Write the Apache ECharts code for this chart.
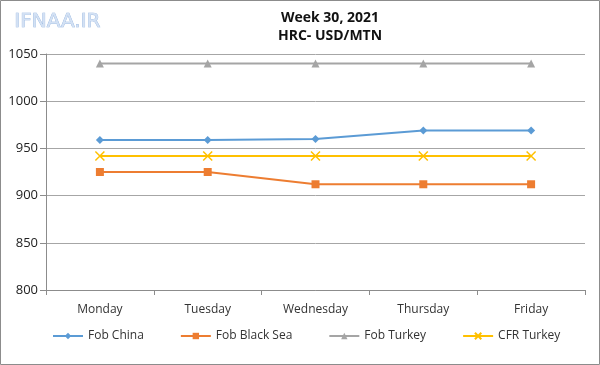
<!DOCTYPE html>
<html><head><meta charset="utf-8">
<script src="https://cdn.jsdelivr.net/npm/echarts@6/dist/echarts.min.js"></script>
<style>html,body{margin:0;padding:0;background:#fff}#c{width:600px;height:365px}</style>
</head><body><div id="c"></div>
<script>
const categories = ['Monday','Tuesday','Wednesday','Thursday','Friday'];
const fobChina = [959, 959, 960, 969, 969];
const fobBlackSea = [925, 925, 912, 912, 912];
const fobTurkey = [1040, 1040, 1040, 1040, 1040];
const cfrTurkey = [942, 942, 942, 942, 942];
const titleLines = ['Week 30, 2021', 'HRC- USD/MTN'];

const chart = echarts.init(document.getElementById('c'), null, {renderer:'canvas'});
const font = 'Open Sans, Noto Sans, sans-serif';
function s(name, data, color, symbol, size) {
  return {name, type:'line', data, color, symbol, symbolSize:size, showSymbol:true,
    lineStyle:{color, width:2}, itemStyle:{color}, emphasis:{disabled:true}, animation:false};
}
chart.setOption({
  animation:false,
  title:{text:titleLines[0], subtext:titleLines[1], left:325, textAlign:'center', top:6, itemGap:4,
    textStyle:{fontFamily:font, fontSize:14, fontWeight:'bold', color:'#111'},
    subtextStyle:{fontFamily:font, fontSize:14, fontWeight:'bold', color:'#111'}},
  graphic:[
    {type:'rect', shape:{x:0.5,y:0.5,width:599,height:364}, style:{fill:null, stroke:'#8c8c8c', lineWidth:1}, silent:true},
    {type:'text', left:14, top:11, style:{text:'IFNAA.IR', font:'20px "DejaVu Sans", sans-serif', fill:'#d3e1f4', stroke:'#8fb0dd', lineWidth:0.7}, silent:true}
  ],
  grid:{left:46, right:15, top:54, bottom:75},
  legend:{bottom:18, left:47, itemGap:36, itemWidth:30, itemHeight:8,
    textStyle:{fontFamily:font, fontSize:12, color:'#333'},
    data:['Fob China','Fob Black Sea','Fob Turkey','CFR Turkey']},
  xAxis:{type:'category', data:categories, boundaryGap:true,
    axisLine:{lineStyle:{color:'#8c8c8c'}}, axisTick:{show:true, length:5, lineStyle:{color:'#8c8c8c'}},
    axisLabel:{fontFamily:font, fontSize:12, color:'#333', margin:14}},
  yAxis:{type:'value', min:800, max:1050, interval:50,
    axisLine:{show:true, lineStyle:{color:'#8c8c8c'}}, axisTick:{show:true, length:6, lineStyle:{color:'#8c8c8c'}},
    axisLabel:{fontFamily:font, fontSize:13, color:'#222', margin:8, formatter:v => String(v)},
    splitLine:{lineStyle:{color:'#a6a6a6'}}},
  series:[
    s('Fob China', fobChina, '#5b9bd5', 'diamond', 8),
    s('Fob Black Sea', fobBlackSea, '#ed7d31', 'rect', 8),
    s('Fob Turkey', fobTurkey, '#a5a5a5', 'triangle', 8),
    Object.assign(s('CFR Turkey', cfrTurkey, '#ffc000', 'path://M0,0L10,10M10,0L0,10', 9), {itemStyle:{color:'#ffc000', borderColor:'#ffc000', borderWidth:1.5}})
  ]
});
</script></body></html>
